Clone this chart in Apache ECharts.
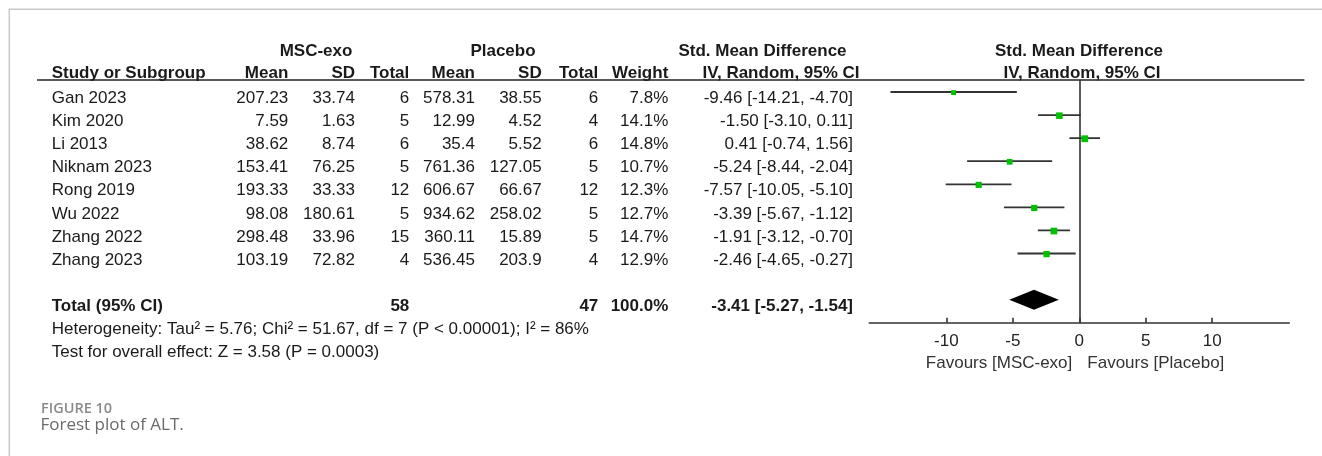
<!DOCTYPE html>
<html><head><meta charset="utf-8">
<script src="https://cdn.jsdelivr.net/npm/echarts@6/dist/echarts.min.js"></script>
<style>html,body{margin:0;padding:0;background:#fff}#c{width:1322px;height:456px}</style>
</head><body><div id="c"></div>
<script>
// ---- data ----
const studies = ['Gan 2023','Kim 2020','Li 2013','Niknam 2023','Rong 2019','Wu 2022','Zhang 2022','Zhang 2023'];
const expMean = [207.23, 7.59, 38.62, 153.41, 193.33, 98.08, 298.48, 103.19];
const expSD   = [33.74, 1.63, 8.74, 76.25, 33.33, 180.61, 33.96, 72.82];
const expN    = [6, 5, 6, 5, 12, 5, 15, 4];
const ctlMean = [578.31, 12.99, 35.4, 761.36, 606.67, 934.62, 360.11, 536.45];
const ctlSD   = [38.55, 4.52, 5.52, 127.05, 66.67, 258.02, 15.89, 203.9];
const ctlN    = [6, 4, 6, 5, 12, 5, 5, 4];
const weights = [7.8, 14.1, 14.8, 10.7, 12.3, 12.7, 14.7, 12.9];
const smd     = [-9.46, -1.50, 0.41, -5.24, -7.57, -3.39, -1.91, -2.46];
const ciLow   = [-14.21, -3.10, -0.74, -8.44, -10.05, -5.67, -3.12, -4.65];
const ciHigh  = [-4.70, 0.11, 1.56, -2.04, -5.10, -1.12, -0.70, -0.27];
const totalN  = [58, 47];
const totalWeight = 100.0;
const totalEffect = [-3.41, -5.27, -1.54]; // estimate, low, high
const heterogeneityText = 'Heterogeneity: Tau\u00b2 = 5.76; Chi\u00b2 = 51.67, df = 7 (P < 0.00001); I\u00b2 = 86%';
const overallText = 'Test for overall effect: Z = 3.58 (P = 0.0003)';
const xTicks = [-10, -5, 0, 5, 10];

// ---- layout / style ----
const FONT = '"Liberation Sans", Arial, sans-serif';
const ROW_MIN = -0.52, ROW_MAX = 10;
const TOTAL_ROW = 9, HET_ROW = 10, TEST_ROW = 11, HEAD_ROW = -1.1, GROUP_ROW = -2.05;
const TEXT_DY = 6.5;
const GRID_TOP = 80, GRID_BOTTOM = 133.3;
const SQUARE_K = 1.75;
const fmt2 = v => v.toFixed(2);
const ciStr = (e, l, h) => fmt2(e) + ' [' + fmt2(l) + ', ' + fmt2(h) + ']';

const cells = [];
function cell(x, row, text, align, bold) { cells.push({x, row, text, align, bold}); }
// group headers
cell(316, GROUP_ROW, 'MSC-exo', 'center', true);
cell(503, GROUP_ROW, 'Placebo', 'center', true);
cell(762.5, GROUP_ROW, 'Std. Mean Difference', 'center', true);
cell(1079, GROUP_ROW, 'Std. Mean Difference', 'center', true);
// column headers
cell(51.7, HEAD_ROW, 'Study or Subgroup', 'left', true);
const colX = [288.3, 355, 409.3, 475, 541.7, 598.3, 668.3, 853];
['Mean','SD','Total','Mean','SD','Total','Weight'].forEach((h, k) => cell(colX[k], HEAD_ROW, h, 'right', true));
cell(781, HEAD_ROW, 'IV, Random, 95% CI', 'center', true);
cell(1082, HEAD_ROW, 'IV, Random, 95% CI', 'center', true);
// study rows
studies.forEach((s, i) => {
  cell(51.7, i, s, 'left', false);
  cell(colX[0], i, String(expMean[i]), 'right', false);
  cell(colX[1], i, String(expSD[i]), 'right', false);
  cell(colX[2], i, String(expN[i]), 'right', false);
  cell(colX[3], i, String(ctlMean[i]), 'right', false);
  cell(colX[4], i, String(ctlSD[i]), 'right', false);
  cell(colX[5], i, String(ctlN[i]), 'right', false);
  cell(colX[6], i, weights[i].toFixed(1) + '%', 'right', false);
  cell(colX[7], i, ciStr(smd[i], ciLow[i], ciHigh[i]), 'right', false);
});
// total
cell(51.7, TOTAL_ROW, 'Total (95% CI)', 'left', true);
cell(colX[2], TOTAL_ROW, String(totalN[0]), 'right', true);
cell(colX[5], TOTAL_ROW, String(totalN[1]), 'right', true);
cell(colX[6], TOTAL_ROW, totalWeight.toFixed(1) + '%', 'right', true);
cell(colX[7], TOTAL_ROW, ciStr(totalEffect[0], totalEffect[1], totalEffect[2]), 'right', true);
cell(51.7, HET_ROW, heterogeneityText, 'left', false);
cell(51.7, TEST_ROW, overallText, 'left', false);

const chart = echarts.init(document.getElementById('c'), null, {renderer: 'canvas'});
const option = {
  backgroundColor: '#fff',
  animation: false,
  grid: [
    {left: 869.3, right: 32.7, top: GRID_TOP, bottom: GRID_BOTTOM},
    {left: 0, right: 0, top: GRID_TOP, bottom: GRID_BOTTOM}
  ],
  xAxis: [
    {type: 'value', gridIndex: 0, min: -15.8, max: 15.8, position: 'bottom',
     axisLine: {show: true, onZero: false, lineStyle: {color: '#333', width: 1.6}},
     axisTick: {show: true, inside: true, length: 5, customValues: xTicks, lineStyle: {color: '#333', width: 1.6}},
     axisLabel: {show: true, customValues: xTicks, color: '#222', fontSize: 17, fontFamily: FONT, margin: 10},
     splitLine: {show: false}},
    {type: 'value', gridIndex: 1, min: 0, max: 1322, show: false}
  ],
  yAxis: [
    {type: 'value', gridIndex: 0, min: ROW_MIN, max: ROW_MAX, inverse: true, show: false},
    {type: 'value', gridIndex: 1, min: ROW_MIN, max: ROW_MAX, inverse: true, show: false}
  ],
  graphic: [
    {type: 'polyline', shape: {points: [[9.3, 456], [9.3, 9.3], [1322, 9.3]]}, style: {stroke: '#c8c8c8', lineWidth: 1.5, fill: null}, silent: true},
    {type: 'text', left: 41, top: 401, style: {text: 'FIGURE 10', font: '600 14.5px "Open Sans", sans-serif', fill: '#8a8a8a'}},
    {type: 'text', left: 40.5, top: 417, style: {text: 'Forest plot of ALT.', font: '17px "Open Sans", sans-serif', fill: '#6a6a6a'}}
  ],
  series: [
    { // table text
      type: 'custom', xAxisIndex: 1, yAxisIndex: 1, silent: true,
      data: cells.map(c => [c.x, c.row]),
      renderItem(params, api) {
        const c = cells[params.dataIndex];
        const p = api.coord([api.value(0), api.value(1)]);
        return {type: 'text', x: p[0], y: p[1] + TEXT_DY,
          style: {text: c.text, align: c.align, verticalAlign: 'middle',
                  font: (c.bold ? 'bold ' : '') + '17px ' + FONT, fill: '#1a1a1a'}};
      }
    },
    { // header rule
      type: 'custom', xAxisIndex: 1, yAxisIndex: 1, silent: true,
      data: [[37, 1304.4, ROW_MIN]],
      renderItem(params, api) {
        const a = api.coord([api.value(0), api.value(2)]);
        const b = api.coord([api.value(1), api.value(2)]);
        return {type: 'line', shape: {x1: a[0], y1: a[1], x2: b[0], y2: b[1]}, style: {stroke: '#222', lineWidth: 1.6}};
      }
    },
    { // study CIs and squares
      type: 'custom', xAxisIndex: 0, yAxisIndex: 0, silent: true,
      data: studies.map((s, i) => [ciLow[i], ciHigh[i], smd[i], i, weights[i]]),
      encode: {x: [0, 1, 2], y: 3},
      renderItem(params, api) {
        const row = api.value(3);
        const lo = api.coord([api.value(0), row]);
        const hi = api.coord([api.value(1), row]);
        const c = api.coord([api.value(2), row]);
        const s = SQUARE_K * Math.sqrt(api.value(4));
        return {type: 'group', children: [
          {type: 'line', shape: {x1: lo[0], y1: lo[1], x2: hi[0], y2: hi[1]}, style: {stroke: '#333', lineWidth: 1.8}},
          {type: 'rect', shape: {x: c[0] - s / 2, y: c[1] - s / 2 + 0.6, width: s, height: s}, style: {fill: '#00c000'}}
        ]};
      },
      markLine: {silent: true, symbol: 'none', label: {show: false},
        lineStyle: {color: '#333', width: 1.6, type: 'solid'}, data: [{xAxis: 0}]}
    },
    { // total diamond
      type: 'custom', xAxisIndex: 0, yAxisIndex: 0, silent: true,
      data: [[totalEffect[1], totalEffect[2], totalEffect[0], TOTAL_ROW]],
      renderItem(params, api) {
        const row = api.value(3);
        const lo = api.coord([api.value(0), row]);
        const hi = api.coord([api.value(1), row]);
        const c = api.coord([api.value(2), row]);
        const h = 10;
        return {type: 'polygon', shape: {points: [[lo[0], c[1]], [c[0], c[1] - h], [hi[0], c[1]], [c[0], c[1] + h]]}, style: {fill: '#000'}};
      }
    },
    { // favours labels
      type: 'custom', xAxisIndex: 0, yAxisIndex: 0, silent: true,
      data: [[0, ROW_MAX]],
      renderItem(params, api) {
        const p = api.coord([api.value(0), api.value(1)]);
        const y = p[1] + 40.6;
        const f = '17px ' + FONT;
        return {type: 'group', children: [
          {type: 'text', x: p[0] - 7, y: y, style: {text: 'Favours [MSC-exo]', align: 'right', verticalAlign: 'middle', font: f, fill: '#333'}},
          {type: 'text', x: p[0] + 8, y: y, style: {text: 'Favours [Placebo]', align: 'left', verticalAlign: 'middle', font: f, fill: '#333'}}
        ]};
      }
    }
  ]
};
chart.setOption(option);
</script>
</body></html>
